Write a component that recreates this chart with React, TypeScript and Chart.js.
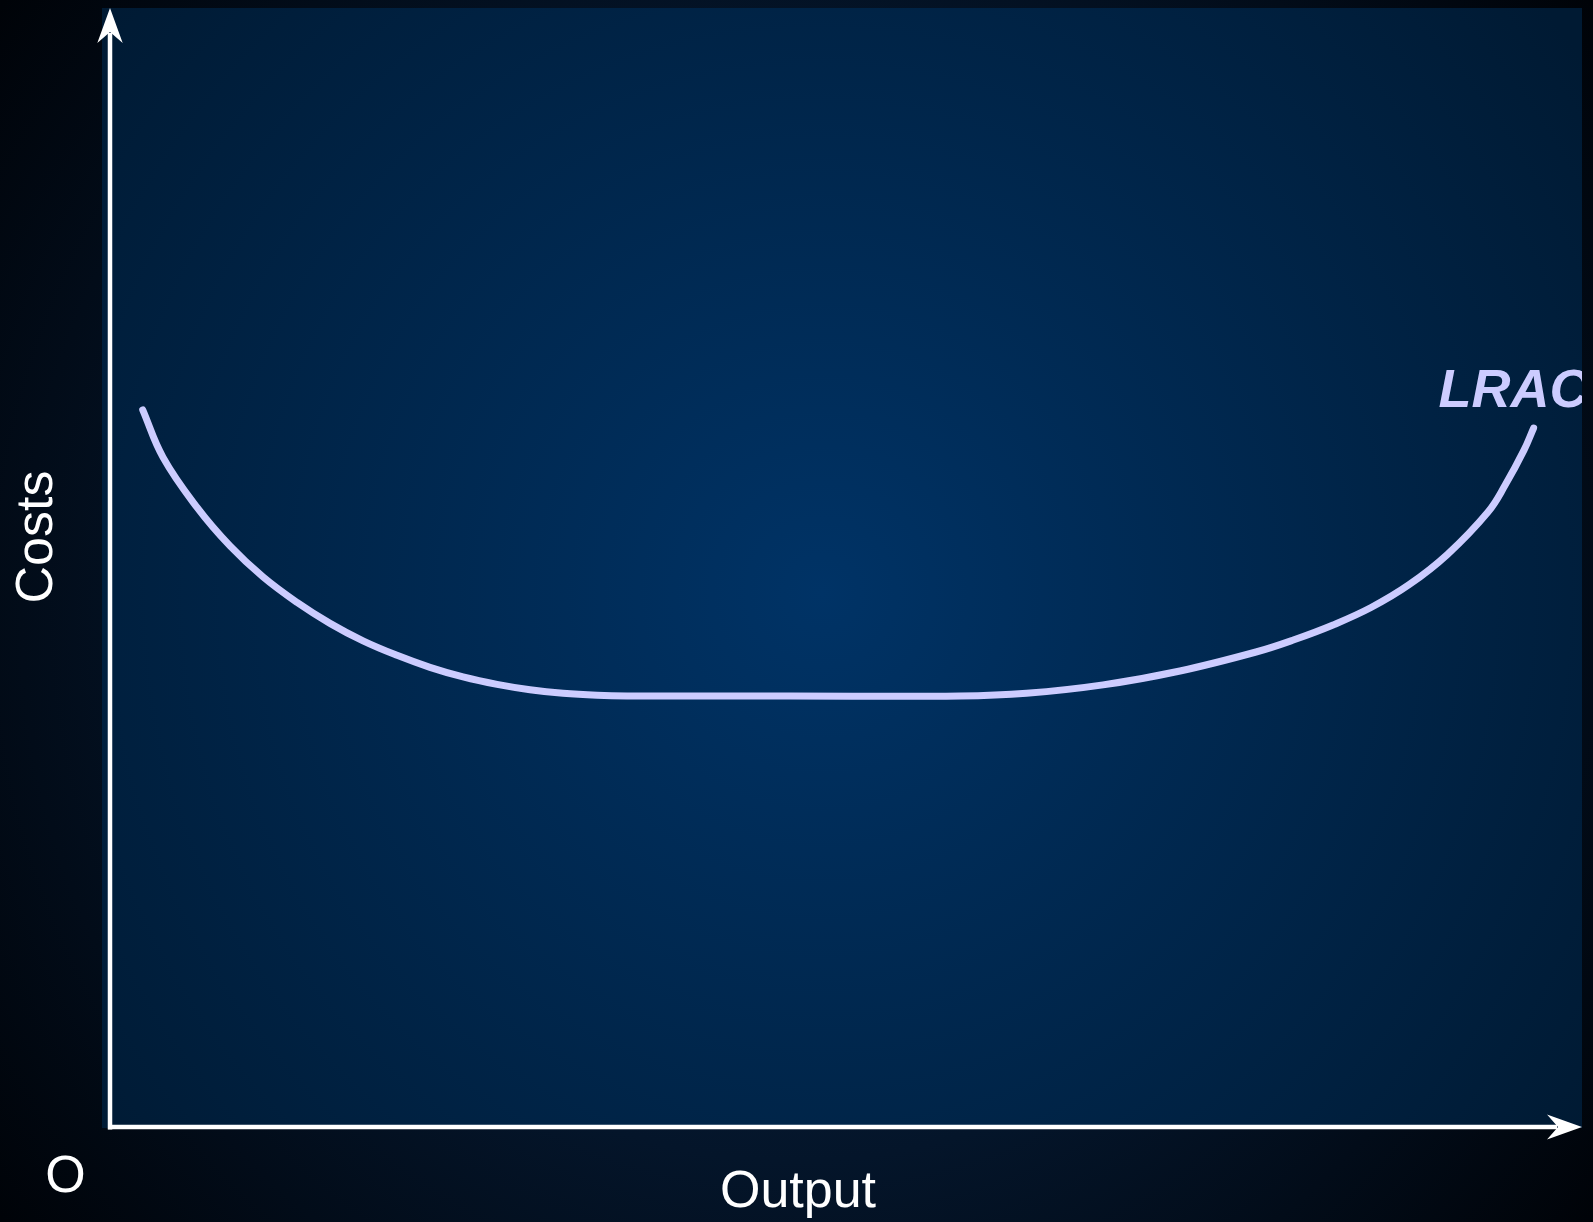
import React, { useEffect, useRef } from "react";
import { Chart, registerables } from "chart.js";

Chart.register(...registerables);

// Output quantity (x) and long-run average cost (y)
const outputX = [
  4.09, 6.63, 10.88, 15, 19.13, 23.38, 27.5, 31.63, 35.88, 40, 44.13, 48.38, 52.5, 56.63, 60.88, 64.63,
  85,
  106.25, 114.56, 124.13, 133.75, 143.25, 148, 152.88, 157.63, 162.38, 167.19, 172.25, 174.38, 176.75, 177.95,
];
const lracY = [
  89.76, 83.83, 77.58, 72.76, 68.89, 65.7, 63.08, 60.89, 59.08, 57.58, 56.38, 55.45, 54.78, 54.33, 54.08, 54,
  54,
  54, 54.34, 55.39, 57.13, 59.5, 61.03, 62.88, 65.06, 67.91, 71.71, 77, 80.33, 84.73, 87.49,
];

const seriesName = "LRAC";
const xAxisTitle = "Output";
const yAxisTitle = "Costs";
const originLabel = "O";

const X_MIN = -1;
const X_MAX = 184;
const Y_MIN = 0;
const Y_MAX = 140;

const FONT = "'Liberation Sans', Arial, Helvetica, sans-serif";

const decorPlugin = {
  id: "decor",
  beforeDraw(chart: any) {
    const { ctx, width, height, chartArea } = chart;
    ctx.save();
    const g = ctx.createRadialGradient(width / 2, height / 2, 0, width / 2, height / 2, 1000);
    g.addColorStop(0, "#0b2545");
    g.addColorStop(0.55, "#04152a");
    g.addColorStop(1, "#000308");
    ctx.fillStyle = g;
    ctx.fillRect(0, 0, width, height);
    const cx = (chartArea.left + chartArea.right) / 2 - 20;
    const cy = (chartArea.top + chartArea.bottom) / 2 + 25;
    const g2 = ctx.createRadialGradient(cx, cy, 0, cx, cy, 930);
    g2.addColorStop(0, "#003366");
    g2.addColorStop(1, "#001a33");
    ctx.fillStyle = g2;
    ctx.fillRect(chartArea.left, chartArea.top, chartArea.right - chartArea.left, chartArea.bottom - chartArea.top);
    ctx.restore();
  },
  afterDatasetsDraw(chart: any) {
    const { ctx, chartArea } = chart;
    const xs = chart.scales.x;
    const ys = chart.scales.y;
    const ox = xs.getPixelForValue(0);
    const oy = ys.getPixelForValue(0) - 1;
    const tipX = xs.getPixelForValue(X_MAX);
    const tipY = ys.getPixelForValue(Y_MAX);
    ctx.save();
    ctx.strokeStyle = "#ffffff";
    ctx.fillStyle = "#ffffff";
    ctx.lineWidth = 4.5;
    // y axis
    ctx.beginPath();
    ctx.moveTo(ox, oy + 2.5);
    ctx.lineTo(ox, tipY + 25);
    ctx.stroke();
    // x axis
    ctx.beginPath();
    ctx.moveTo(ox - 2, oy);
    ctx.lineTo(tipX - 25, oy);
    ctx.stroke();
    // arrowheads
    ctx.beginPath();
    ctx.moveTo(ox, tipY);
    ctx.lineTo(ox - 12.7, tipY + 35);
    ctx.lineTo(ox, tipY + 24);
    ctx.lineTo(ox + 12.7, tipY + 35);
    ctx.closePath();
    ctx.fill();
    ctx.beginPath();
    ctx.moveTo(tipX, oy);
    ctx.lineTo(tipX - 35, oy - 12.5);
    ctx.lineTo(tipX - 24, oy);
    ctx.lineTo(tipX - 35, oy + 12.5);
    ctx.closePath();
    ctx.fill();

    // axis titles
    ctx.font = `52px ${FONT}`;
    ctx.textBaseline = "alphabetic";
    ctx.textAlign = "center";
    ctx.fillText(xAxisTitle, 798, 1207);
    ctx.fillText(originLabel, 65.5, 1192);
    ctx.save();
    ctx.translate(52, 537);
    ctx.rotate(-Math.PI / 2);
    ctx.fillText(yAxisTitle, 0, 0);
    ctx.restore();

    // series label near the curve end, clipped to the plot area
    const meta = chart.getDatasetMeta(0);
    const last = meta.data[meta.data.length - 1];
    ctx.save();
    ctx.beginPath();
    ctx.rect(chartArea.left, chartArea.top, chartArea.right - chartArea.left, chartArea.bottom - chartArea.top);
    ctx.clip();
    ctx.fillStyle = "#ccccff";
    ctx.font = `italic bold 54px ${FONT}`;
    ctx.textAlign = "left";
    ctx.fillText(seriesName, last.x - 95, last.y - 21);
    ctx.restore();
    ctx.restore();
  },
};

export default function App() {
  const ref = useRef<HTMLCanvasElement | null>(null);
  useEffect(() => {
    if (!ref.current) return;
    const chart = new Chart(ref.current, {
      type: "line",
      data: {
        datasets: [
          {
            label: seriesName,
            data: outputX.map((x, i) => ({ x, y: lracY[i] })),
            borderColor: "#ccccff",
            borderWidth: 7,
            borderCapStyle: "round",
            borderJoinStyle: "round",
            pointRadius: 0,
            tension: 0.4,
            fill: false,
          },
        ],
      },
      options: {
        animation: false,
        responsive: false,
        devicePixelRatio: 1,
        layout: { padding: { left: 102, top: 8, right: 11, bottom: 94 } },
        scales: {
          x: { type: "linear", min: X_MIN, max: X_MAX, display: false },
          y: { type: "linear", min: Y_MIN, max: Y_MAX, display: false },
        },
        plugins: {
          legend: { display: false },
          tooltip: { enabled: false },
        },
        events: [],
      },
      plugins: [decorPlugin],
    } as any);
    return () => chart.destroy();
  }, []);
  return (
    <div style={{ position: "fixed", left: 0, top: 0, width: 1593, height: 1222 }}>
      <canvas ref={ref} width={1593} height={1222} style={{ display: "block", width: 1593, height: 1222 }} />
    </div>
  );
}
